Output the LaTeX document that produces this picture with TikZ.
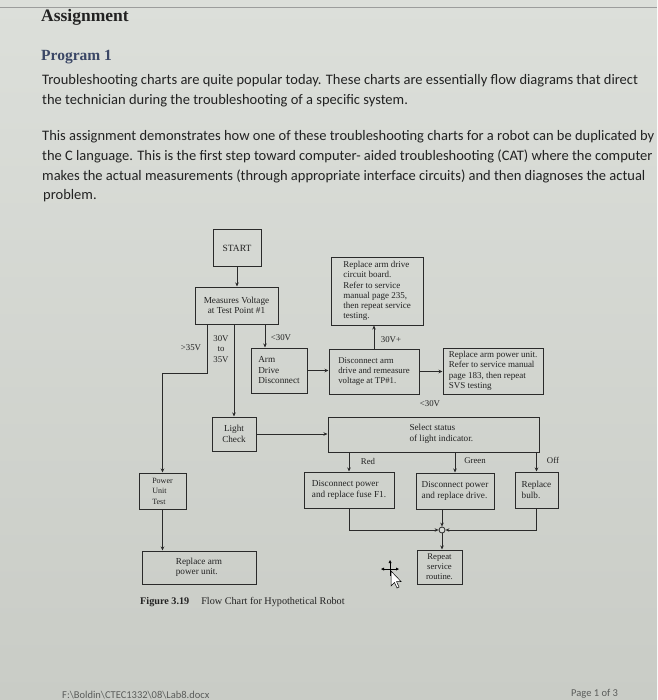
\documentclass[tikz,border=0pt]{standalone}
\usepackage{fontspec}
\setmainfont{Liberation Serif}
\newfontfamily\calib{Carlito}
\usetikzlibrary{arrows.meta}
\definecolor{bgtop}{HTML}{DCDFDA}
\definecolor{bgbot}{HTML}{C9CCC6}
\definecolor{bgmid}{HTML}{D6D9D4}
\definecolor{ink}{HTML}{222222}
\definecolor{lineink}{HTML}{2A2A2A}
\definecolor{progblue}{HTML}{3B4766}
\definecolor{foot}{HTML}{5A5C5A}
\tikzset{
  fbox/.style={draw=lineink, line width=1pt, inner sep=1pt, align=left, text=ink,
    font=\fontsize{9.2}{10.5}\selectfont},
  lbl/.style={text=ink, font=\fontsize{8.8}{10}\selectfont, inner sep=0pt, align=center},
  arr/.style={draw=lineink, line width=0.9pt, -{Stealth[length=4pt,width=3.5pt]}},
  body/.style={anchor=base west, inner sep=0pt, text=ink, font=\calib\fontsize{14.5}{16}\selectfont}
}
\begin{document}
\begin{tikzpicture}[x=1pt,y=-1pt]
\shade[top color=bgtop, bottom color=bgbot] (0,0) rectangle (657,700);
\useasboundingbox (0,0) rectangle (657,700);
\draw[foot!60, line width=0.6pt] (0,7) -- (657,7);

% headings
\node[anchor=base west, inner sep=0pt, text=ink, font=\fontsize{17.5}{20}\selectfont\bfseries] (h1) at (41,22) {Assignment};
\node[anchor=base west, inner sep=0pt, text=progblue, font=\fontsize{15.5}{18}\selectfont\bfseries] (h2) at (41,61) {Program 1};
\node[body] (l1) at (42,85) {Troubleshooting charts are quite popular today. These charts are essentially flow diagrams that direct};
\node[body] (l2) at (42,105) {the technician during the troubleshooting of a specific system.};
\node[body] (l3) at (42,141) {This assignment demonstrates how one of these troubleshooting charts for a robot can be duplicated by};
\node[body] (l4) at (42,161) {the C language. This is the first step toward computer- aided troubleshooting (CAT) where the computer};
\node[body] (l5) at (42,181) {makes the actual measurements (through appropriate interface circuits) and then diagnoses the actual};
\node[body] (l6) at (43,200) {problem.};

% flowchart boxes
\node[fbox, align=center, minimum width=48pt, minimum height=36pt, font=\fontsize{9.5}{11}\selectfont] (start) at (237,248) {START};
\node[fbox, align=center, minimum width=83pt, minimum height=37pt] (meas) at (236.5,305.5) {Measures Voltage\\at Test Point \#1};
\node[fbox, minimum width=56pt, minimum height=45pt] (armdrive) at (279,370.5) {Arm\\Drive\\Disconnect};
\node[fbox, minimum width=90pt, minimum height=45pt, font=\fontsize{8.8}{9.6}\selectfont] (discon) at (374,371.5) {Disconnect arm\\drive and remeasure\\voltage at TP\#1.};
\node[fbox, minimum width=92pt, minimum height=68pt, font=\fontsize{9}{10.2}\selectfont] (replcb) at (377,291) {Replace arm drive\\circuit board.\\Refer to service\\manual page 235,\\then repeat service\\testing.};
\node[fbox, minimum width=100pt, minimum height=46pt, font=\fontsize{9}{10.5}\selectfont] (replpu) at (493,371) {Replace arm power unit.\\Refer to service manual\\page 183, then repeat\\SVS testing};
\node[fbox, align=center, minimum width=44pt, minimum height=34pt] (light) at (234,434) {Light\\Check};
\node[fbox, minimum width=211pt, minimum height=35pt] (select) at (433.5,434.5) {};
\node[fbox, draw=none, anchor=west, inner sep=0pt] (seltext) at (409,434) {Select status\\of light indicator.};
\node[fbox, minimum width=90pt, minimum height=36pt] (fuse) at (349,490) {Disconnect power\\and replace fuse F1.};
\node[fbox, minimum width=78pt, minimum height=36pt] (drive) at (455,491) {Disconnect power\\and replace drive.};
\node[fbox, minimum width=43pt, minimum height=36pt] (bulb) at (536.5,490) {Replace\\bulb.};
\node[fbox, align=center, minimum width=45pt, minimum height=34pt, font=\fontsize{8.7}{10}\selectfont] (repeat) at (439.5,567) {Repeat\\service\\routine.};
\node[fbox, minimum width=47pt, minimum height=36pt, font=\fontsize{8}{10.5}\selectfont] (power) at (162.5,491) {Power\\Unit\\Test};
\node[fbox, minimum width=114pt, minimum height=33pt] (replarm) at (199,567.5) {Replace arm\\power unit.};
\node[circle, draw=lineink, line width=0.8pt, fill=bgmid, minimum size=6pt, inner sep=0pt] (j) at (442,530) {};

% connectors
\draw[arr] (start.south) -- (start.south |- meas.north);
\path ([xshift=-29.5pt]meas.south) coordinate (m1);
\path ([xshift=28.5pt]meas.south) coordinate (m3);
\coordinate (bend) at (207,373);
\draw[arr] (m1) -- (bend) -| (power.north);
\draw[arr] (meas.south -| light.north) -- (light.north);
\draw[arr] (m3) -- (m3 |- armdrive.north);
\draw[arr] (armdrive.east) -- (armdrive.east -| discon.west);
\draw[arr] (discon.north) -- (discon.north |- replcb.south);
\draw[arr] (discon.east) -- (discon.east -| replpu.west);
\draw[arr] (light.east) -- (light.east -| select.west);
\draw[arr] (fuse.north |- select.south) -- (fuse.north);
\draw[arr] (drive.north |- select.south) -- (drive.north);
\draw[arr] (bulb.north |- select.south) -- (bulb.north);
\draw[arr] (fuse.south) |- (j.west);
\draw[arr] (j |- drive.south) -- (j.north);
\draw[arr] (bulb.south) |- (j.east);
\draw[arr] (j.south) -- (j.south |- repeat.north);
\draw[arr] (power.south) -- (power.south |- replarm.north);

% labels
\node[lbl] (t1) at (191,348) {>35V};
\node[lbl, font=\fontsize{8.8}{10.5}\selectfont] (t2) at (221,349) {30V\\to\\35V};
\node[lbl] (t3) at (281,338) {<30V};
\node[lbl] (t4) at (391,340) {30V+};
\node[lbl] (t5) at (430,404) {<30V};
\node[lbl] (t6) at (368,461) {Red};
\node[lbl] (t7) at (475,461) {Green};
\node[lbl] (t8) at (553,460) {Off};

% caption
\node[anchor=base west, inner sep=0pt, text=ink, font=\fontsize{10.2}{11}\selectfont] (cap) at (140,604) {\textbf{Figure 3.19}\hspace{12pt}Flow Chart for Hypothetical Robot};

% cursor
\draw[black, line width=0.6pt] (383,569) -- (397,569) (390,562) -- (390,576);
\fill[black] (381,569) -- (384,567.5) -- (384,570.5) -- cycle (399,569) -- (396,567.5) -- (396,570.5) -- cycle
  (390,560) -- (388.5,563) -- (391.5,563) -- cycle;
\filldraw[fill=white, draw=black, line width=0.5pt] (391,571) -- (391,586) -- (394.5,582.5) -- (397,588) -- (399,587) -- (396.5,581.5) -- (401,581.5) -- cycle;

% footer
\node[anchor=base west, inner sep=0pt, text=foot, font=\calib\fontsize{10.5}{12}\selectfont] (f1) at (62,698) {F:\textbackslash Boldin\textbackslash CTEC1332\textbackslash 08\textbackslash Lab8.docx};
\node[anchor=base west, inner sep=0pt, text=foot, font=\calib\fontsize{10.5}{12}\selectfont] (f2) at (571,696) {Page 1 of 3};
\end{tikzpicture}
\end{document}
